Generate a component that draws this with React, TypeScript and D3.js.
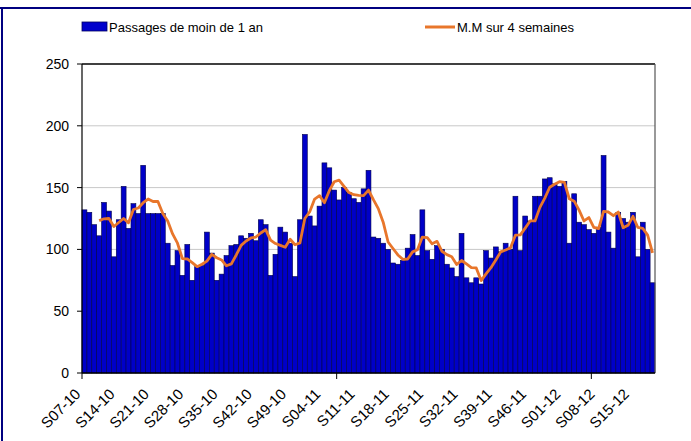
import React from "react";
import * as d3 from "d3";

const startWeek = 7;
const startYear = 2010;
const weeksPerYear = 52;

const passages: number[] = [
  132, 130, 120, 111, 138, 131, 94, 124, 151, 117, 137, 129, 168, 129, 129, 129, 129, 105, 87, 99,
  79, 104, 75, 86, 87, 114, 97, 75, 80, 95, 103, 104, 111, 109, 113, 107, 124, 120, 79, 96,
  118, 114, 105, 78, 124, 193, 127, 119, 135, 170, 166, 148, 140, 150, 146, 141, 138, 149, 164, 110,
  109, 105, 100, 89, 88, 91, 101, 112, 95, 132, 99, 92, 103, 100, 88, 85, 78, 113, 77, 73,
  77, 72, 99, 93, 102, 98, 105, 100, 143, 99, 127, 123, 143, 143, 157, 158, 153, 151, 155, 105,
  145, 122, 120, 116, 113, 118, 176, 114, 101, 130, 125, 122, 130, 94, 122, 100, 73,
];

const yTicks = [0, 50, 100, 150, 200, 250];
const tickLabels = [
  "S07-10", "S14-10", "S21-10", "S28-10", "S35-10", "S42-10", "S49-10", "S04-11", "S11-11",
  "S18-11", "S25-11", "S32-11", "S39-11", "S46-11", "S01-12", "S08-12", "S15-12",
];
const legendLabels = ["Passages de moin de 1 an", "M.M sur 4 semaines"];

function weekName(i: number): string {
  const abs = startWeek - 1 + i;
  const w = (abs % weeksPerYear) + 1;
  const yr = startYear + Math.floor(abs / weeksPerYear);
  return `S${String(w).padStart(2, "0")}-${String(yr % 100).padStart(2, "0")}`;
}

const categories = passages.map((_, i) => weekName(i));

const W = 691;
const H = 441;
const left = 82;
const right = 655;
const top = 64;
const bottom = 373;
const font = "Arial, 'Liberation Sans', sans-serif";

export default function App() {
  const x = d3.scaleBand<string>().domain(categories).range([left, right]).padding(0);
  const y = d3.scaleLinear().domain([0, 250]).range([bottom, top]);
  const bw = x.bandwidth();

  const ma = passages.map((_, i) =>
    i < 3 ? null : (d3.mean(passages.slice(i - 3, i + 1)) as number)
  );
  const line = d3
    .line<number | null>()
    .defined((d) => d !== null)
    .x((_, i) => (x(categories[i]) as number) + bw / 2)
    .y((d) => y(d as number));

  const tickIdx = tickLabels.map((t) => categories.indexOf(t));
  const majorTicks = [0, 52, 104];

  return (
    <svg
      width={W}
      height={H}
      style={{ position: "absolute", left: 0, top: 0, background: "#fff" }}
      fontFamily={font}
    >
      <rect x={0} y={0} width={W} height={H} fill="#fff" />
      <line x1={0} x2={W} y1={8} y2={8} stroke="#000080" strokeWidth={2} />
      <line x1={2} x2={2} y1={8} y2={H} stroke="#000080" strokeWidth={2} />

      {/* legend */}
      <rect x={82} y={22} width={25} height={9} fill="#0000cc" stroke="#000060" strokeWidth={0.8} />
      <text x={109} y={31.5} fontSize={13} fill="#000">{legendLabels[0]}</text>
      <line x1={425} x2={455} y1={27} y2={27} stroke="#e8762b" strokeWidth={3} />
      <text x={457} y={31.5} fontSize={13} fill="#000">{legendLabels[1]}</text>

      {/* gridlines */}
      {yTicks.filter((t) => t > 0 && t < 250).map((t) => (
        <line key={t} x1={left} x2={right} y1={y(t)} y2={y(t)} stroke="#c8c8c8" strokeWidth={1} />
      ))}

      {/* bars */}
      {passages.map((v, i) => (
        <rect
          key={i}
          x={x(categories[i])}
          y={y(v)}
          width={bw}
          height={bottom - y(v)}
          fill="#0000c8"
          stroke="#00004a"
          strokeWidth={0.6}
        />
      ))}

      {/* moving average */}
      <path d={line(ma) || ""} fill="none" stroke="#e8762b" strokeWidth={2.8} strokeLinejoin="round" />

      {/* frame */}
      <line x1={left} x2={right} y1={top} y2={top} stroke="#000" strokeWidth={1.5} />
      <line x1={right} x2={right} y1={top} y2={bottom} stroke="#555" strokeWidth={1.2} />
      <line x1={left} x2={left} y1={top} y2={bottom} stroke="#000" strokeWidth={1.2} />
      <line x1={left} x2={right} y1={bottom} y2={bottom} stroke="#000" strokeWidth={1.5} />

      {/* y axis */}
      {yTicks.map((t) => (
        <g key={t}>
          <line x1={left - 5} x2={left} y1={y(t)} y2={y(t)} stroke="#000" />
          <text x={left - 13} y={y(t)} dy="0.35em" textAnchor="end" fontSize={14} fill="#000">
            {t}
          </text>
        </g>
      ))}

      {/* x ticks */}
      {majorTicks.map((i) => (
        <line key={i} x1={x(categories[i])} x2={x(categories[i])} y1={bottom} y2={bottom + 6} stroke="#000" />
      ))}
      {tickIdx.map((i, k) => {
        const cx = (x(categories[i]) as number) + bw / 2 - 3;
        const cy = bottom + 22;
        return (
          <text
            key={k}
            x={cx}
            y={cy}
            transform={`rotate(-45, ${cx}, ${cy})`}
            textAnchor="end"
            fontSize={15}
            fill="#000"
          >
            {tickLabels[k]}
          </text>
        );
      })}
    </svg>
  );
}
